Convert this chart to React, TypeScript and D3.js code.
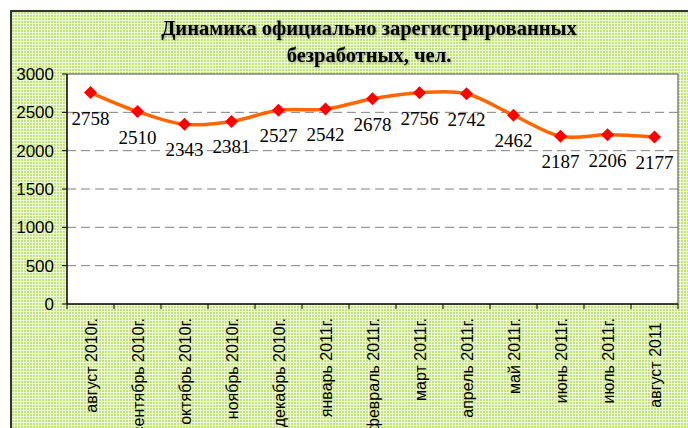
import React from "react";
import * as d3 from "d3";

const categories = [
  "август 2010г.",
  "сентябрь 2010г.",
  "октябрь 2010г.",
  "ноябрь 2010г.",
  "декабрь 2010г.",
  "январь 2011г.",
  "февраль 2011г.",
  "март 2011г.",
  "апрель 2011г.",
  "май 2011г.",
  "июнь 2011г.",
  "июль 2011г.",
  "август 2011 ",
];
const values = [2758, 2510, 2343, 2381, 2527, 2542, 2678, 2756, 2742, 2462, 2187, 2206, 2177];
const yTicks = [0, 500, 1000, 1500, 2000, 2500, 3000];
const titleLines = ["Динамика официально зарегистрированных", "безработных, чел."];

export default function App() {
  const W = 688;
  const H = 428;
  const left = 67;
  const right = 678;
  const top = 74;
  const bottom = 304;

  const x = d3.scaleBand<string>().domain(categories).range([left, right]).paddingInner(0).paddingOuter(0);
  const y = d3.scaleLinear().domain([0, 3000]).range([bottom, top]);
  const cx = (c: string) => (x(c) as number) + x.bandwidth() / 2;

  const line = d3
    .line<number>()
    .x((_, i) => cx(categories[i]))
    .y((d) => y(d))
    .curve(d3.curveCardinal.tension(0));

  const boundaries = d3.range(categories.length + 1).map((i) => left + i * x.bandwidth());

  return (
    <svg
      width={W}
      height={H}
      style={{ position: "absolute", left: 0, top: 0, display: "block" }}
    >
      <defs>
        <pattern id="bgp" width={3} height={3} patternUnits="userSpaceOnUse">
          <rect width={3} height={3} fill="#eef8da" />
          <rect width={2} height={2} fill="#c2e376" />
        </pattern>
        <filter id="tsh" x="-5%" y="-20%" width="110%" height="150%">
          <feDropShadow dx={1} dy={1} stdDeviation={0.8} floodColor="#000" floodOpacity={0.35} />
        </filter>
      </defs>
      <rect x={0} y={0} width={W} height={H} fill="#ffffff" />
      <rect x={11} y={11} width={W + 20} height={H + 20} fill="url(#bgp)" stroke="#333333" strokeWidth={2} />

      {/* title */}
      <g filter="url(#tsh)">
        {titleLines.map((t, i) => (
          <text
            key={i}
            x={369}
            y={35 + i * 27}
            textAnchor="middle"
            fontFamily="'Liberation Serif', 'Times New Roman', serif"
            fontWeight="bold"
            fontSize={20.5}
            fill="#000"
          >
            {t}
          </text>
        ))}
      </g>

      {/* plot area */}
      <rect x={left} y={top} width={right - left} height={bottom - top} fill="#ffffff" />
      {yTicks
        .filter((t) => t > 0 && t < 3000)
        .map((t) => (
          <line
            key={t}
            x1={left}
            x2={right}
            y1={y(t)}
            y2={y(t)}
            stroke="#808080"
            strokeWidth={1}
            strokeDasharray="9,5"
          />
        ))}
      <line x1={left} x2={right} y1={top} y2={top} stroke="#808080" strokeWidth={1.5} />
      <line x1={right} x2={right} y1={top} y2={bottom} stroke="#808080" strokeWidth={1.5} />

      {/* axes */}
      <line x1={left} x2={left} y1={top} y2={bottom} stroke="#000" strokeWidth={1.5} />
      <line x1={left} x2={right} y1={bottom} y2={bottom} stroke="#000" strokeWidth={1.5} />
      {yTicks.map((t) => (
        <g key={t}>
          <line x1={left - 5} x2={left} y1={y(t)} y2={y(t)} stroke="#000" strokeWidth={1} />
          <text
            x={54}
            y={y(t)}
            dy="0.36em"
            textAnchor="end"
            fontFamily="'Liberation Sans', Arial, sans-serif"
            fontSize={17}
            fill="#000"
          >
            {t}
          </text>
        </g>
      ))}
      {boundaries.map((b, i) => (
        <line key={i} x1={b} x2={b} y1={bottom} y2={bottom + 5} stroke="#000" strokeWidth={1} />
      ))}
      {categories.map((c) => (
        <text
          key={c}
          transform={`translate(${cx(c) + 6},318) rotate(-90)`}
          textAnchor="end"
          fontFamily="'Liberation Sans', Arial, sans-serif"
          fontSize={16}
          fill="#000"
          style={{ whiteSpace: "pre" }}
        >
          {c}
        </text>
      ))}

      {/* series */}
      <path d={line(values) || ""} fill="none" stroke="#ff6600" strokeWidth={3.5} strokeLinejoin="round" />
      {values.map((v, i) => {
        const px = cx(categories[i]);
        const py = y(v);
        const s = 6.5;
        return (
          <path
            key={i}
            d={`M${px},${py - s}L${px + s},${py}L${px},${py + s}L${px - s},${py}Z`}
            fill="#ff0000"
          />
        );
      })}
      {values.map((v, i) => (
        <text
          key={i}
          x={cx(categories[i])}
          y={y(v) + 32}
          textAnchor="middle"
          fontFamily="'Liberation Serif', 'Times New Roman', serif"
          fontSize={19}
          fill="#000"
        >
          {v}
        </text>
      ))}
    </svg>
  );
}
